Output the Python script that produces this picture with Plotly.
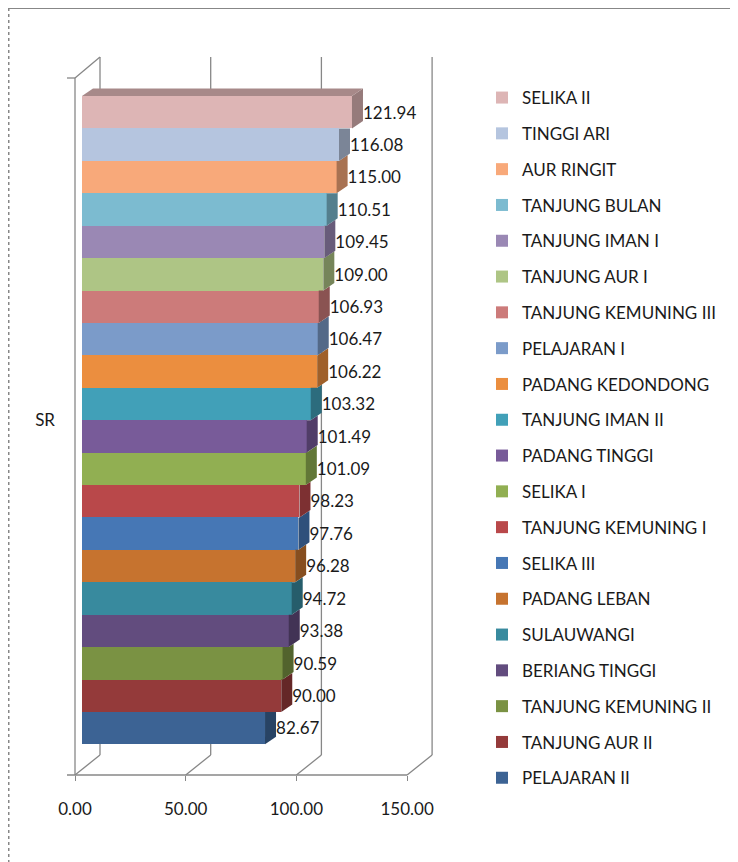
import plotly.graph_objects as go

# series in Excel order (first series = bottom bar)
names = ["PELAJARAN II", "TANJUNG AUR II", "TANJUNG KEMUNING II", "BERIANG TINGGI",
         "SULAUWANGI", "PADANG LEBAN", "SELIKA III", "TANJUNG KEMUNING I", "SELIKA I",
         "PADANG TINGGI", "TANJUNG IMAN II", "PADANG KEDONDONG", "PELAJARAN I",
         "TANJUNG KEMUNING III", "TANJUNG AUR I", "TANJUNG IMAN I", "TANJUNG BULAN",
         "AUR RINGIT", "TINGGI ARI", "SELIKA II"]
sr = [82.67, 90.00, 90.59, 93.38, 94.72, 96.28, 97.76, 98.23, 101.09, 101.49,
      103.32, 106.22, 106.47, 106.93, 109.00, 109.45, 110.51, 115.00, 116.08, 121.94]
colors = ["#3C6394", "#943A3A", "#7A9243", "#624C7E", "#388A9E", "#C6732F",
          "#4677B5", "#B9484A", "#91AF52", "#785B99", "#41A0B8", "#EB8E3F",
          "#7B9BC9", "#CC7B7A", "#AEC585", "#9A88B4", "#7CBBD0", "#F8A97A",
          "#B5C5DF", "#DDB5B5"]
category = "SR"
x_ticks = [0, 50, 100, 150]

W, H = 738, 862
OFF = 8             # page margin around the plot div
PX = 2.214          # pixels per unit on the value axis
X0 = 75             # front plane zero (page px)
BAR_X0 = 82         # bars sit a little behind the front plane
YC, YU = 420.2, 648.3
FLOOR_F, FLOOR_B, TOP_F, TOP_B = 775, 755, 78, 57
WALL_DX = 25
GRID = "#878787"
FONT = "Lato"
TXT = "#1a1a1a"


def darker(c, f=0.68):
    r, g, b = int(c[1:3], 16), int(c[3:5], 16), int(c[5:7], 16)
    return "rgb(%d,%d,%d)" % (r * f, g * f, b * f)


def px(x):
    return (x - OFF) / W


def py(y):
    return 1 - (y - OFF) / H


fig = go.Figure()

n = len(sr)
w = 1.0 / n
dx = 11 / PX
dy = 7.5 / YU
shift = (BAR_X0 - X0) / PX

for i in range(n):
    fig.add_trace(go.Bar(
        x=[sr[i]], y=[0], orientation="h", name=names[i], legendgroup=names[i],
        legendrank=n - i,
        marker=dict(color=colors[i], line=dict(width=0))))

# visible part of each bar's right face (and the top face of the last bar)
for i in range(n):
    v = sr[i]
    lo = -0.5 + i * w
    hi = lo + w
    d = min(max(sr[i + 1] - v, 0), dx) if i < n - 1 else 0
    xs = [v, v, v + d, v + dx, v + dx, v]
    ys = [lo, hi, hi, hi + dy * (dx - d) / dx, lo + dy, lo]
    fig.add_trace(go.Scatter(
        x=xs, y=ys, fill="toself", fillcolor=darker(colors[i]), mode="lines",
        line=dict(width=0, color=darker(colors[i])), showlegend=False,
        hoverinfo="skip"))
    if i == n - 1:
        fig.add_trace(go.Scatter(
            x=[0, dx, v + dx, v, 0], y=[hi, hi + dy, hi + dy, hi, hi],
            fill="toself", fillcolor=darker(colors[i], 0.76), mode="lines",
            line=dict(width=0, color=darker(colors[i], 0.76)), showlegend=False,
            hoverinfo="skip"))

# data labels
fig.add_trace(go.Scatter(
    x=[v + dx for v in sr], y=[-0.5 + (i + 0.5) * w - 2 / YU for i in range(n)],
    mode="text", text=["%.2f" % v for v in sr], textposition="middle right",
    textfont=dict(family=FONT, size=17, color=TXT),
    showlegend=False, hoverinfo="skip"))

# 3d frame
shapes = []


def line(x0, y0, x1, y1, dash="solid", width=1.3):
    shapes.append(dict(type="line", xref="paper", yref="paper",
                       x0=px(x0), y0=py(y0), x1=px(x1), y1=py(y1),
                       line=dict(color=GRID, width=width, dash=dash), layer="below"))


for t in x_ticks:
    fx = X0 + PX * t
    line(fx + WALL_DX, TOP_B, fx + WALL_DX, FLOOR_B)     # back wall gridline
    line(fx, FLOOR_F, fx + WALL_DX, FLOOR_B)             # floor diagonal
line(X0, TOP_F, X0, FLOOR_F)
line(X0, TOP_F, X0 + WALL_DX, TOP_B)
line(X0 - 8, TOP_F, X0, TOP_F)
line(X0 - 8, FLOOR_F, X0 + PX * x_ticks[-1], FLOOR_F)

# outer chart border
line(OFF, OFF, 737, OFF, width=2)
line(737, OFF, 737, H + OFF, width=2)
line(OFF + 0.5, OFF, OFF + 0.5, H + OFF, dash="dot", width=2)

fig.update_layout(
    width=W, height=H,
    margin=dict(l=0, r=0, t=0, b=0),
    paper_bgcolor="white", plot_bgcolor="rgba(0,0,0,0)",
    barmode="group", bargap=0, bargroupgap=0,
    shapes=shapes,
    showlegend=True,
    legend=dict(x=px(482), y=py(80), xanchor="left", yanchor="top",
                traceorder="grouped", tracegroupgap=10.7,
                bgcolor="rgba(0,0,0,0)",
                font=dict(family=FONT, size=17, color=TXT)),
    xaxis=dict(domain=[0, 1],
               range=[-(BAR_X0 - OFF) / PX, (W + OFF - BAR_X0) / PX],
               anchor="free", position=py(FLOOR_F),
               tickvals=[t - shift for t in x_ticks],
               ticktext=["%.2f" % t for t in x_ticks], ticks="outside",
               ticklen=5, tickwidth=1.3, tickcolor=GRID, ticklabelstandoff=14,
               showgrid=False, zeroline=False, showline=False,
               tickfont=dict(family=FONT, size=17, color=TXT)),
    yaxis=dict(domain=[0, 1], range=[(YC - H - OFF) / YU, (YC - OFF) / YU],
               anchor="free", position=px(X0),
               tickvals=[0], ticktext=[category], ticks="",
               ticklabelstandoff=20,
               showgrid=False, zeroline=False, showline=False,
               tickfont=dict(family=FONT, size=17, color=TXT)),
)

fig.write_html("out.html")
